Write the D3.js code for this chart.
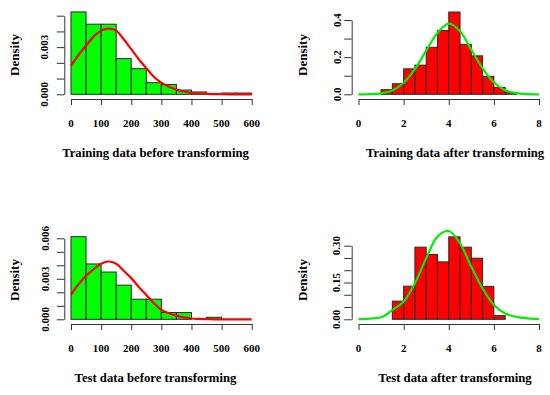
<!DOCTYPE html>
<html>
 <head>
   <meta charset="utf-8">
   <title>Histograms before and after transforming</title>
   <script src="https://cdn.jsdelivr.net/npm/d3@7/dist/d3.min.js"></script>
   <style>
     body { margin: 0; background: #fff; }
     text { font-family: "Liberation Serif", "Times New Roman", serif; font-weight: bold; fill: #000; }
   </style>
 </head>
 <body>
  <script>
    // histogram bin edges and densities
    var trainRawBins    = [0, 50, 100, 150, 200, 250, 300, 350, 400, 450, 500, 550, 600];
    var trainRawDensity = [0.00524, 0.00446, 0.00446, 0.00227, 0.00163, 0.00074, 0.00062, 0.00027, 0.00015, 0, 0.00008, 0.00008];
    var testRawBins     = [0, 50, 100, 150, 200, 250, 300, 350, 400, 450, 500];
    var testRawDensity  = [0.00612, 0.0041, 0.0035, 0.00253, 0.00149, 0.00149, 0.0005, 0.0005, 0, 0.00015];
    var trainLogBins    = [1, 1.5, 2, 2.5, 3, 3.5, 4, 4.5, 5, 5.5, 6, 6.5, 7];
    var trainLogDensity = [0.025, 0.057, 0.137, 0.157, 0.253, 0.343, 0.443, 0.269, 0.207, 0.097, 0.037, 0.01];
    var testLogBins     = [1.5, 2, 2.5, 3, 3.5, 4, 4.5, 5, 5.5, 6, 6.5];
    var testLogDensity  = [0.074, 0.135, 0.294, 0.264, 0.234, 0.336, 0.294, 0.249, 0.134, 0.015];

    // fitted density curves
    var rawCurveX     = [0, 25, 50, 75, 100, 125, 150, 175, 200, 225, 250, 275, 300, 325, 350, 375, 400, 425, 450, 475, 500, 525, 550, 575, 600];
    var trainRawCurve = [0.00182, 0.0025, 0.0031, 0.00367, 0.00405, 0.00418, 0.00405, 0.0035, 0.00287, 0.00223, 0.00166, 0.00112, 0.00074, 0.00048, 0.0003, 0.00018, 0.0001, 0.00005, 0.00003, 0.00001, 0.00001, 0, 0, 0, 0];
    var testRawCurve  = [0.00183, 0.0026, 0.00322, 0.0037, 0.00411, 0.00428, 0.00411, 0.0036, 0.00305, 0.0024, 0.0018, 0.0012, 0.0007, 0.00045, 0.00027, 0.00014, 0.00006, 0.00003, 0.00001, 0, 0, 0, 0, 0, 0];
    var logCurveX     = [0, 0.5, 1, 1.5, 2, 2.5, 3, 3.5, 4, 4.5, 5, 5.5, 6, 6.5, 7, 7.5, 8];
    var trainLogCurve = [0, 0.001, 0.005, 0.02, 0.062, 0.135, 0.235, 0.33, 0.38, 0.34, 0.24, 0.14, 0.065, 0.022, 0.006, 0.001, 0];
    var testLogCurve  = [0.001, 0.003, 0.008, 0.038, 0.072, 0.147, 0.249, 0.337, 0.36, 0.31, 0.214, 0.126, 0.058, 0.024, 0.01, 0.004, 0.001];

    // tick values and labels
    var rawXTicks   = [0, 100, 200, 300, 400, 500, 600];
    var logXTicks   = [0, 2, 4, 6, 8];
    var p1YTicks    = [0, 0.001, 0.002, 0.003, 0.004, 0.005];
    var p1YLabels   = ["0.000", "0.003"];
    var p2YTicks    = [0, 0.1, 0.2, 0.3, 0.4];
    var p2YLabels   = ["0.0", "0.2", "0.4"];
    var p3YTicks    = [0, 0.001, 0.002, 0.003, 0.004, 0.005, 0.006];
    var p3YLabels   = ["0.000", "0.003", "0.006"];
    var p4YTicks    = [0, 0.05, 0.1, 0.15, 0.2, 0.25, 0.3];
    var p4YLabels   = ["0.00", "0.15", "0.30"];
    var titles      = ["Training data before transforming", "Training data after transforming",
                       "Test data before transforming", "Test data after transforming"];

    var width = 550, height = 395;
    var svg = d3.select("body").append("svg")
                .attr("width", width)
                .attr("height", height);

    function drawPanel(p) {
      var g = svg.append("g").attr("transform", "translate(0," + p.dy + ")");
      var x = d3.scaleLinear().domain(p.xDomain).range(p.xRange);
      var y = d3.scaleLinear().domain(p.yDomain).range([94.3, p.yTop]);

      // bars
      var bins = p.density.map(function(d, i) { return { x0: p.bins[i], x1: p.bins[i + 1], d: d }; });
      g.selectAll("rect.bar").data(bins).enter().append("rect")
        .attr("class", "bar")
        .attr("x", function(b) { return x(b.x0); })
        .attr("width", function(b) { return x(b.x1) - x(b.x0); })
        .attr("y", function(b) { return y(b.d); })
        .attr("height", function(b) { return y(0) - y(b.d); })
        .attr("fill", p.barColor)
        .attr("stroke", "#2a2a2a")
        .attr("stroke-width", 1);

      // fitted curve
      var line = d3.line()
        .x(function(d, i) { return x(p.curveX[i]); })
        .y(function(d) { return y(d); })
        .curve(d3.curveCatmullRom);
      g.append("path")
        .attr("d", line(p.curve))
        .attr("fill", "none")
        .attr("stroke", p.curveColor)
        .attr("stroke-width", 2.2);

      // x axis
      var xa = g.append("g").attr("transform", "translate(0,99)")
        .call(d3.axisBottom(x).tickValues(p.xTicks).tickSize(6).tickSizeOuter(0).tickFormat(""));
      xa.select(".domain").attr("stroke", "#333");
      xa.selectAll(".tick line").attr("stroke", "#333");
      g.selectAll("text.xtick").data(p.xTicks).enter().append("text")
        .attr("class", "xtick")
        .attr("x", function(d) { return x(d); })
        .attr("y", 126.7)
        .attr("text-anchor", "middle")
        .style("font-size", "11px")
        .text(function(d) { return d; });

      // y axis, labels parallel to the axis
      var ya = g.append("g").attr("transform", "translate(" + p.yAxisX + ",0)")
        .call(d3.axisLeft(y).tickValues(p.yTicks).tickSize(7.5).tickSizeOuter(0).tickFormat(""));
      ya.select(".domain").attr("stroke", "#333");
      ya.selectAll(".tick line").attr("stroke", "#333");
      g.selectAll("text.ytick").data(p.yLabels).enter().append("text")
        .attr("class", "ytick")
        .attr("transform", function(d) { return "translate(" + p.yLabelX + "," + y(+d) + ") rotate(-90)"; })
        .attr("text-anchor", "middle")
        .attr("dominant-baseline", "central")
        .style("font-size", "11px")
        .text(function(d) { return d; });

      g.append("text")
        .attr("transform", "translate(" + p.densityX + ",55) rotate(-90)")
        .attr("text-anchor", "middle")
        .attr("dominant-baseline", "central")
        .style("font-size", "13px")
        .text("Density");

      g.append("text")
        .attr("x", p.titleX)
        .attr("y", 156.7)
        .attr("text-anchor", "middle")
        .style("font-size", "12.7px")
        .text(p.title);
    }

    var rawRange = [71, 251.7], logRange = [358.5, 539];

    drawPanel({ dy: 0, xDomain: [0, 600], xRange: rawRange, yDomain: [0, 0.005], yTop: 15.7,
                bins: trainRawBins, density: trainRawDensity, barColor: "#00ff00",
                curveX: rawCurveX, curve: trainRawCurve, curveColor: "#ff0000",
                xTicks: rawXTicks, yTicks: p1YTicks, yLabels: p1YLabels,
                yAxisX: 64.3, yLabelX: 43.5, densityX: 14, titleX: 155.5, title: titles[0] });

    drawPanel({ dy: 0, xDomain: [0, 8], xRange: logRange, yDomain: [0, 0.4], yTop: 20,
                bins: trainLogBins, density: trainLogDensity, barColor: "#ff0000",
                curveX: logCurveX, curve: trainLogCurve, curveColor: "#00ee00",
                xTicks: logXTicks, yTicks: p2YTicks, yLabels: p2YLabels,
                yAxisX: 351.7, yLabelX: 337, densityX: 302, titleX: 455, title: titles[1] });

    drawPanel({ dy: 225, xDomain: [0, 600], xRange: rawRange, yDomain: [0, 0.006], yTop: 13.3,
                bins: testRawBins, density: testRawDensity, barColor: "#00ff00",
                curveX: rawCurveX, curve: testRawCurve, curveColor: "#ff0000",
                xTicks: rawXTicks, yTicks: p3YTicks, yLabels: p3YLabels,
                yAxisX: 64.3, yLabelX: 44.5, densityX: 14, titleX: 155.5, title: titles[2] });

    drawPanel({ dy: 225, xDomain: [0, 8], xRange: logRange, yDomain: [0, 0.3], yTop: 20.7,
                bins: testLogBins, density: testLogDensity, barColor: "#ff0000",
                curveX: logCurveX, curve: testLogCurve, curveColor: "#00ee00",
                xTicks: logXTicks, yTicks: p4YTicks, yLabels: p4YLabels,
                yAxisX: 351.7, yLabelX: 336, densityX: 302, titleX: 455, title: titles[3] });
  </script>
 </body>
</html>
